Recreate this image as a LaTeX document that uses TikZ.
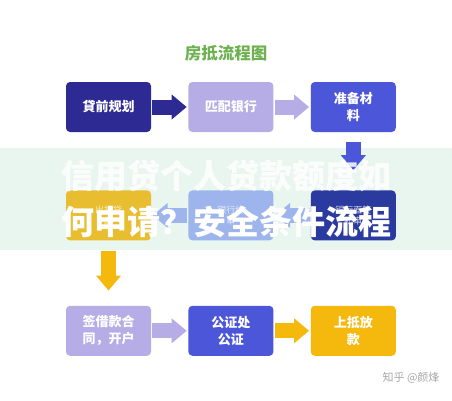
\documentclass[tikz,border=0pt]{standalone}
\usepackage{fontspec}
\setmainfont{Noto Sans CJK SC}
\usetikzlibrary{arrows.meta, positioning}
\definecolor{navy}{HTML}{2E2A94}
\definecolor{lavender}{HTML}{B7ADE6}
\definecolor{royal}{HTML}{4B57D8}
\definecolor{amber}{HTML}{F5B80C}
\definecolor{paleamber}{HTML}{E8BE30}
\definecolor{skyblue}{HTML}{9DB4EC}
\definecolor{deepnavy}{HTML}{2B3A9E}
\definecolor{leaf}{HTML}{6DB150}
\definecolor{mint}{HTML}{E9F6F0}

\begin{document}
\begin{tikzpicture}[
  x=1pt, y=-1pt,
  node distance=37pt,
  every node/.style={align=center, text=white, font=\bfseries\fontsize{13}{17}\selectfont},
  stepbox/.style={rounded corners=4pt, minimum width=85pt, minimum height=50pt, inner sep=0pt},
  faded/.style={font=\fontsize{9}{11}\selectfont, text opacity=0.75},
  flow/.style={line width=15pt, -{Triangle[length=15pt, width=24pt]}, shorten <=1pt, shorten >=1.5pt}
]
\useasboundingbox (0,0) rectangle (452,400);
\fill[mint] (0,148) rectangle (452,250);

\node (title) at (226,53) [text=leaf, font=\bfseries\fontsize{16.5}{18}\selectfont] {房抵流程图};

% first row
\node (plan) at (108.5,107) [stepbox, fill=navy] {貸前规划};
\node (match) [stepbox, fill=lavender, right=of plan] {匹配银行};
\node (docs) [stepbox, fill=royal, right=of match] {准备材\\料};

% second row, right to left
\node (interview) [stepbox, fill=deepnavy, below=58pt of docs, faded] {银行面签\\初审};
\node (review) [stepbox, fill=skyblue, left=of interview, faded] {银行终\\审};
\node (approve) [stepbox, fill=paleamber, left=of review, faded] {出批贷\\函};

% third row
\node (contract) [stepbox, fill=lavender, below=65pt of approve] {签借款合\\同，开户};
\node (notary) [stepbox, fill=royal, right=of contract] {公证处\\公证};
\node (release) [stepbox, fill=amber, right=of notary] {上抵放\\款};

\draw[flow, navy] (plan) -- (match);
\draw[flow, lavender] (match) -- (docs);
\draw[flow, royal, shorten <=10pt, shorten >=20pt] (docs) -- (interview);
\draw[flow, skyblue] (interview) -- (review);
\draw[flow, skyblue] (review) -- (approve);
\draw[flow, amber, shorten <=10pt, shorten >=15pt] (approve) -- (contract);
\draw[flow, lavender] (contract) -- (notary);
\draw[flow, amber] (notary) -- (release);

% banner text laid over the second row
\node (bannertop) at (226,176) [font=\bfseries\fontsize{33}{33}\selectfont, text opacity=0.85] {信用贷个人贷款额度如};
\node (bannerbot) at (226,222) [font=\bfseries\fontsize{33}{33}\selectfont] {何申请？安全条件流程};

\node (mark) [anchor=east, text=black!35, font=\fontsize{11}{13}\selectfont] at (443,378) {知乎 @颜烽};
\end{tikzpicture}
\end{document}
